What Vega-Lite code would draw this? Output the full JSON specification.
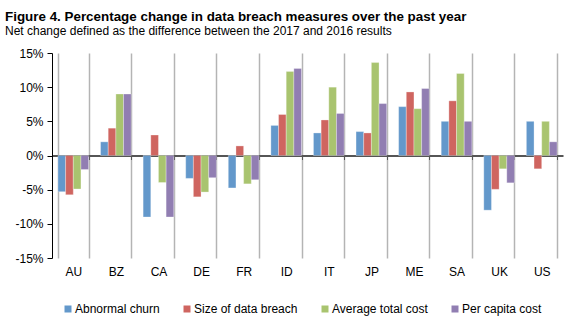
{
  "$schema": "https://vega.github.io/schema/vega-lite/v6.json",
  "autosize": "none",
  "width": 511,
  "height": 205,
  "padding": {"left": 52, "top": 53, "right": 18, "bottom": 73},
  "background": "white",
  "title": {
    "text": "Figure 4. Percentage change in data breach measures over the past year",
    "subtitle": "Net change defined as the difference between the 2017 and 2016 results",
    "anchor": "start",
    "frame": "group",
    "dx": -47,
    "offset": 10,
    "font": "Liberation Sans",
    "fontSize": 13.4,
    "fontWeight": "bold",
    "color": "#000000",
    "subtitleFont": "Liberation Sans",
    "subtitleFontSize": 12,
    "subtitleColor": "#000000",
    "subtitlePadding": 3
  },
  "config": {
    "view": {"stroke": null},
    "font": "Liberation Sans"
  },
  "data": {
    "values": [
      {"country": "AU", "measure": "Abnormal churn", "value": -5.3},
      {"country": "AU", "measure": "Size of data breach", "value": -5.75},
      {"country": "AU", "measure": "Average total cost", "value": -4.9},
      {"country": "AU", "measure": "Per capita cost", "value": -2.05},
      {"country": "BZ", "measure": "Abnormal churn", "value": 2.0},
      {"country": "BZ", "measure": "Size of data breach", "value": 4.0},
      {"country": "BZ", "measure": "Average total cost", "value": 9.0},
      {"country": "BZ", "measure": "Per capita cost", "value": 9.0},
      {"country": "CA", "measure": "Abnormal churn", "value": -9.0},
      {"country": "CA", "measure": "Size of data breach", "value": 3.0},
      {"country": "CA", "measure": "Average total cost", "value": -3.95},
      {"country": "CA", "measure": "Per capita cost", "value": -9.0},
      {"country": "DE", "measure": "Abnormal churn", "value": -3.35},
      {"country": "DE", "measure": "Size of data breach", "value": -6.05},
      {"country": "DE", "measure": "Average total cost", "value": -5.35},
      {"country": "DE", "measure": "Per capita cost", "value": -3.25},
      {"country": "FR", "measure": "Abnormal churn", "value": -4.75},
      {"country": "FR", "measure": "Size of data breach", "value": 1.4},
      {"country": "FR", "measure": "Average total cost", "value": -4.15},
      {"country": "FR", "measure": "Per capita cost", "value": -3.55},
      {"country": "ID", "measure": "Abnormal churn", "value": 4.4},
      {"country": "ID", "measure": "Size of data breach", "value": 6.0},
      {"country": "ID", "measure": "Average total cost", "value": 12.3},
      {"country": "ID", "measure": "Per capita cost", "value": 12.75},
      {"country": "IT", "measure": "Abnormal churn", "value": 3.3},
      {"country": "IT", "measure": "Size of data breach", "value": 5.2},
      {"country": "IT", "measure": "Average total cost", "value": 10.0},
      {"country": "IT", "measure": "Per capita cost", "value": 6.15},
      {"country": "JP", "measure": "Abnormal churn", "value": 3.5},
      {"country": "JP", "measure": "Size of data breach", "value": 3.3},
      {"country": "JP", "measure": "Average total cost", "value": 13.6},
      {"country": "JP", "measure": "Per capita cost", "value": 7.6},
      {"country": "ME", "measure": "Abnormal churn", "value": 7.15},
      {"country": "ME", "measure": "Size of data breach", "value": 9.3},
      {"country": "ME", "measure": "Average total cost", "value": 6.85},
      {"country": "ME", "measure": "Per capita cost", "value": 9.8},
      {"country": "SA", "measure": "Abnormal churn", "value": 5.0},
      {"country": "SA", "measure": "Size of data breach", "value": 8.0},
      {"country": "SA", "measure": "Average total cost", "value": 12.0},
      {"country": "SA", "measure": "Per capita cost", "value": 5.0},
      {"country": "UK", "measure": "Abnormal churn", "value": -8.0},
      {"country": "UK", "measure": "Size of data breach", "value": -4.95},
      {"country": "UK", "measure": "Average total cost", "value": -1.95},
      {"country": "UK", "measure": "Per capita cost", "value": -4.0},
      {"country": "US", "measure": "Abnormal churn", "value": 5.0},
      {"country": "US", "measure": "Size of data breach", "value": -1.95},
      {"country": "US", "measure": "Average total cost", "value": 5.0},
      {"country": "US", "measure": "Per capita cost", "value": 2.0}
    ]
  },
  "mark": {"type": "bar", "stroke": "#ffffff", "strokeOpacity": 0.6, "strokeWidth": 0.5},
  "encoding": {
    "x": {
      "field": "country",
      "type": "nominal",
      "sort": null,
      "scale": {"paddingInner": 0.28, "paddingOuter": 0.14},
      "axis": {
        "title": null,
        "orient": "bottom",
        "offset": -102.5,
        "labelAngle": 0,
        "labelPadding": 107,
        "labelFont": "Liberation Sans",
        "labelFontSize": 12,
        "labelColor": "#000000",
        "tickBand": "extent",
        "tickSize": 4,
        "tickColor": "#555555",
        "tickWidth": 1,
        "domainColor": "#555555",
        "domainWidth": 2,
        "grid": true,
        "gridColor": "#b4b4b4",
        "gridWidth": 1.5
      }
    },
    "xOffset": {
      "field": "measure",
      "type": "nominal",
      "sort": ["Abnormal churn", "Size of data breach", "Average total cost", "Per capita cost"]
    },
    "y": {
      "field": "value",
      "type": "quantitative",
      "scale": {"domain": [-15, 15], "nice": false},
      "axis": {
        "title": null,
        "values": [-15, -10, -5, 0, 5, 10, 15],
        "labelExpr": "datum.value + '%'",
        "labelFont": "Liberation Sans",
        "labelFontSize": 12,
        "labelColor": "#000000",
        "labelPadding": 4,
        "grid": false,
        "domainColor": "#000000",
        "domainWidth": 1,
        "tickColor": "#000000",
        "tickSize": 5
      }
    },
    "color": {
      "field": "measure",
      "type": "nominal",
      "sort": ["Abnormal churn", "Size of data breach", "Average total cost", "Per capita cost"],
      "scale": {
        "domain": ["Abnormal churn", "Size of data breach", "Average total cost", "Per capita cost"],
        "range": ["#6398cb", "#cf6560", "#a9c46f", "#917eb2"]
      },
      "legend": {
        "title": null,
        "orient": "none",
        "direction": "horizontal",
        "legendX": 10,
        "legendY": 250,
        "symbolType": "square",
        "symbolSize": 49,
        "symbolStrokeWidth": 0,
        "labelFont": "Liberation Sans",
        "labelFontSize": 12,
        "labelColor": "#000000",
        "labelOffset": 1,
        "columnPadding": 21
      }
    }
  }
}
